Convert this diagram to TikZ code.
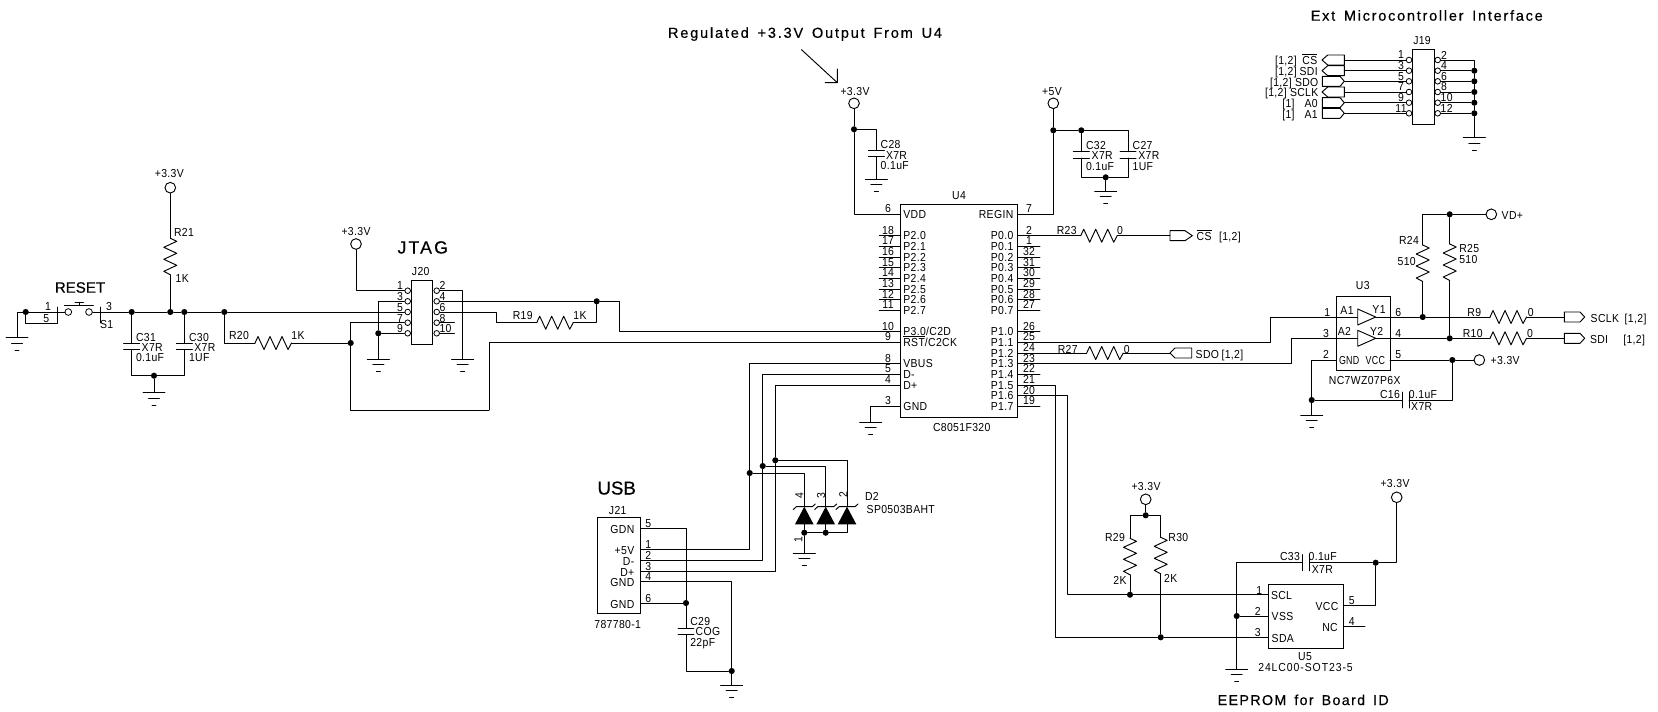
\documentclass[tikz,border=0pt]{standalone}
\usepackage{fontspec}
\setmainfont[FakeStretch=0.9,LetterSpace=3]{Liberation Sans}
\newfontfamily\widefont[LetterSpace=12.5,WordSpace=1.5,FakeBold=0.4]{Liberation Sans}
\newfontfamily\headfont[FakeBold=0.5]{Liberation Sans}
\newcounter{lblc}
\newcommand\smallfs{\fontsize{8.7}{10}\selectfont}
\newcommand\ovl[1]{$\overline{\hbox{#1}}$}
\tikzset{
  wire/.style={line width=0.7pt,line cap=round,line join=round,black},
  lab/.style={inner sep=0pt,outer sep=0pt,font=\smallfs,text=black},
  bigt/.style={inner sep=0pt,outer sep=0pt,text=black},
  junction/.style={circle,fill=black,inner sep=0pt,minimum size=4.6pt},
  pinc/.style={circle,draw=black,line width=0.6pt,fill=white,inner sep=0pt,minimum size=4.2pt},
  rail/.style={circle,draw=black,line width=0.7pt,fill=white,inner sep=0pt,minimum size=8pt},
  chip/.style={line width=0.7pt,black},
}
% text, centre / left / right anchored at mid height of the capitals
\newcommand\txc[3]{\stepcounter{lblc}\node[lab,anchor=base] (t\arabic{lblc}) at (#1,#2+4) {#3};}
\newcommand\txl[3]{\stepcounter{lblc}\node[lab,anchor=base west] (t\arabic{lblc}) at (#1,#2+4) {#3};}
\newcommand\txr[3]{\stepcounter{lblc}\node[lab,anchor=base east] (t\arabic{lblc}) at (#1,#2+4) {#3};}
\newcommand\dotn[3]{\node[junction] (#1) at (#2,#3) {};}
\newcommand\pt[3]{\coordinate (#1) at (#2,#3);}
\newcommand\resH[3]{\coordinate (#1a) at (#2,#3);\coordinate (#1b) at (#2+36.5,#3);
  \draw[wire,shift={(#2,#3)}] (0,0)--(3,-6.5)--(9,6.5)--(15,-6.5)--(21,6.5)--(27,-6.5)--(33,6.5)--(36.5,0);}
\newcommand\resV[3]{\coordinate (#1a) at (#2,#3);\coordinate (#1b) at (#2,#3+36.5);
  \draw[wire,shift={(#2,#3)}] (0,0)--(6.5,3)--(-6.5,9)--(6.5,15)--(-6.5,21)--(6.5,27)--(-6.5,33)--(0,36.5);}
\newcommand\capV[3]{\coordinate (#1a) at (#2,#3);\coordinate (#1b) at (#2,#3+6.5);
  \draw[wire,shift={(#2,#3)}] (-8,0)--(8,0) (-8,6.5)--(8,6.5);}
\newcommand\capH[3]{\coordinate (#1a) at (#2,#3);\coordinate (#1b) at (#2+7,#3);
  \draw[wire,shift={(#2,#3)}] (0,-8)--(0,8) (7,-8)--(7,8);}
\newcommand\gnd[3]{\coordinate (#1) at (#2,#3);
  \draw[wire,shift={(#2,#3)}] (-11,0)--(11,0) (-5.5,5.5)--(5.5,5.5) (-2,12.5)--(2,12.5);}
\newcommand\flag[5]{\coordinate (#1f) at (#2,#5);\coordinate (#1t) at (#4,#5);
  \draw[wire] (#2,#5-5)--(#3,#5-5)--(#4,#5)--(#3,#5+5)--(#2,#5+5)--cycle;}
\newcommand\buf[2]{\draw[wire] (#1,#2-8)--(#1+18,#2)--(#1,#2+8)--cycle;}
\newcommand\zen[1]{\fill[black] (#1,506.7)--(#1+9.3,524.3)--(#1-9.3,524.3)--cycle;
  \draw[wire] (#1-11,509.5)--(#1-8,506.7)--(#1+8,506.7)--(#1+11,504);}
\begin{document}
\begin{tikzpicture}[x=0.75pt,y=-0.75pt]
\fill[white] (0,0) rectangle (1658,711);
\useasboundingbox (0,0) rectangle (1658,711);

% ---------- headings ----------
\node[bigt,anchor=base] (hReset) at (80,292.7) {\fontsize{11.3}{13}\selectfont\headfont RESET};
\node[bigt,anchor=base] (hJtag) at (422.7,253.5) {\fontsize{13.2}{15}\selectfont\widefont JTAG};
\node[bigt,anchor=base] (hUsb) at (616.7,494.5) {\fontsize{14}{16}\selectfont\headfont USB};
\node[bigt,anchor=base west] (hReg) at (668,37.8) {\fontsize{10.9}{12}\selectfont\widefont Regulated +3.3V Output From U4};
\node[bigt,anchor=base west] (hExt) at (1310.7,20.7) {\fontsize{10.9}{12}\selectfont\widefont\addfontfeature{LetterSpace=12} Ext Microcontroller Interface};
\node[bigt,anchor=base west] (hEep) at (1217.7,705) {\fontsize{10.7}{12}\selectfont\widefont\addfontfeature{LetterSpace=9.5} EEPROM for Board ID};

% arrow under the heading
\pt{arA}{801.5}{49.7}\pt{arB}{837.3}{82.7}\pt{arC}{837.3}{69}\pt{arD}{825}{82.7}
\draw[wire] (arA)--(arB) (arC)--(arB)--(arD);

% ---------- reset switch ----------
\gnd{gS}{17}{337.7}
\pt{wS}{17}{312}
\dotn{dS}{25.7}{312}
\pt{sL}{57.3}{312}\pt{sLt}{57.3}{307}\pt{sLb}{57.3}{323}\pt{sR}{100}{312}\pt{sRt}{100}{307}\pt{sRb}{100}{323}
\draw[wire] (gS)--(wS)--(sL);
\draw[wire] (dS)|-(sLb);
\draw[wire] (sLt)--(sLb) (sRt)--(sRb);
\node[pinc,minimum size=5pt] (sA) at (68.3,312) {};
\node[pinc,minimum size=5pt] (sB) at (89,312) {};
\draw[wire] (sL)--(sA) (sB)--(sR);
\draw[wire] (64.3,305.7)--(93.3,305.7) (79,305.7)--(79,302.3) (75,302.3)--(83.3,302.3);
\txc{48}{306.5}{1}\txc{46.3}{318.7}{5}\txc{109}{306.5}{3}\txc{106.7}{324}{S1}

\dotn{d132}{131.7}{312}\dotn{d170}{170.3}{312}\dotn{d184}{184.3}{312}\dotn{d224}{224.3}{312}
\node[rail] (v21) at (170.3,187.7) {};
\txc{169.3}{173.3}{+3.3V}
\resV{r21}{170.3}{238.3}
\draw[wire] (v21)--(r21a) (r21b)--(d170);
\txl{174}{232.7}{R21}\txl{175.7}{278.3}{1K}
\capV{c31}{131.7}{343}\capV{c30}{184.3}{343}
\dotn{d154}{154}{375.7}
\gnd{g154}{154}{392.7}
\draw[wire] (d132)--(c31a) (d184)--(c30a);
\draw[wire] (c31b)|-(d154) (c30b)|-(d154) (d154)--(g154);
\txl{136}{337.3}{C31}\txl{141.7}{347.3}{X7R}\txl{136}{357.7}{0.1uF}
\txl{189}{337.3}{C30}\txl{194.3}{347.3}{X7R}\txl{189}{357.7}{1UF}
\draw[wire] (sR)--(d132) (d132)--(d170) (d170)--(d184) (d184)--(d224);

% ---------- J20 ----------
\draw[chip] (411.7,280) rectangle (432.7,344.3);
\txc{420.7}{271.7}{J20}
\foreach \n/\y in {1/290.7,3/301.3,5/312,7/322.7,9/333.3} {\node[pinc] (jL\n) at (407.7,\y) {};}
\foreach \n/\y in {2/290.7,4/301.3,6/312,8/322.7,10/333.3} {\node[pinc] (jR\n) at (436.7,\y) {};}
\foreach \n/\y in {1/285,3/296.5,5/307.3,7/318,9/328.7} {\txc{400}{\y}{\n}}
\foreach \n/\y in {2/285,4/296.5,6/307.3,8/318} {\txc{442.5}{\y}{\n}}
\txc{445.5}{328.7}{10}
\node[rail] (vJ) at (356,244) {};
\txc{356}{231.7}{+3.3V}
\draw[wire] (vJ)|-(jL1);
\dotn{d378}{378.3}{333.3}
\gnd{g378}{378.3}{359}
\draw[wire] (jL3)-|(d378) (d378)--(g378) (d378)--(jL9);
\draw[wire] (d224)--(jL5);
\resH{r20}{255}{343}
\dotn{d351}{350.7}{343}
\draw[wire] (d224)|-(r20a) (r20b)--(d351);
\txc{239}{335.7}{R20}\txc{298}{335.7}{1K}
\pt{lb1}{350.7}{410}\pt{lb2}{489}{410}
\draw[wire] (jL7)-|(d351) (d351)--(lb1)--(lb2);
\gnd{g463}{462.7}{359}
\draw[wire] (jR2)-|(g463);
\pt{s8}{454.3}{322.7}\pt{s10}{454.3}{333.3}
\draw[wire] (jR8)--(s8) (jR10)--(s10);
\dotn{d597}{596.7}{301.3}
\pt{bC2}{619.3}{301.3}
\pt{b497}{496.7}{322.7}
\resH{r19}{536.7}{322.7}
\draw[wire] (jR6)-|(b497) (b497)--(r19a) (r19b)-|(d597);
\txc{522.7}{315}{R19}\txc{580}{315}{1K}
\draw[wire] (jR4)--(d597)--(bC2);

% ---------- U4 ----------
\draw[chip] (900.7,204) rectangle (1017.7,417.3);
\txc{959}{195.7}{U4}\txc{961.7}{427.3}{C8051F320}
% left pins
\foreach \n/\t/\y in {6/VDD/214.3,18/P2.0/235.7,17/P2.1/246.3,16/P2.2/257,15/P2.3/267.7,14/P2.4/278.3,13/P2.5/289,12/P2.6/299.7,11/P2.7/310.3,10/{P3.0/C2D}/331.7,9/{\ovl{RST}/C2CK}/342.3,8/VBUS/363.7,5/D-/374.3,4/D+/385,3/GND/406.3}{
  \coordinate (uL\n) at (900.7,\y);
  \txl{903.3}{\y}{\t}
  \txc{888}{\y-5.5}{\n}
}
\foreach \n/\y in {18/235.7,17/246.3,16/257,15/267.7,14/278.3,13/289,12/299.7,11/310.3}{
  \coordinate (uLs\n) at (879.3,\y);
  \draw[wire] (uLs\n)--(uL\n);
}
% right pins
\foreach \n/\t/\y in {7/REGIN/214.3,2/P0.0/235.7,1/P0.1/246.3,32/P0.2/257,31/P0.3/267.7,30/P0.4/278.3,29/P0.5/289,28/P0.6/299.7,27/P0.7/310.3,26/P1.0/331.7,25/P1.1/342.3,24/P1.2/353,23/P1.3/363.7,22/P1.4/374.3,21/P1.5/385,20/P1.6/395.7,19/P1.7/406.3}{
  \coordinate (uR\n) at (1017.7,\y);
  \txr{1013.3}{\y}{\t}
  \txc{1029}{\y-5.5}{\n}
}
\foreach \n/\y in {1/246.3,32/257,31/267.7,30/278.3,29/289,28/299.7,27/310.3,26/331.7,22/374.3,19/406.3}{
  \coordinate (uRs\n) at (1040,\y);
  \draw[wire] (uR\n)--(uRs\n);
}
\draw[wire] (bC2)|-(uL10);
\draw[wire] (lb2)|-(uL9);
% VDD and C28
\node[rail] (vU) at (854,103.3) {};
\txc{855}{91.7}{+3.3V}
\dotn{d854}{854}{129.3}
\draw[wire] (vU)--(d854) (d854)|-(uL6);
\capV{c28}{876.3}{150.3}
\gnd{g876}{876.3}{179.3}
\draw[wire] (d854)-|(c28a) (c28b)--(g876);
\txl{880.7}{144.3}{C28}\txl{886}{155}{X7R}\txl{880.7}{165.7}{0.1uF}
% REGIN, C32, C27
\node[rail] (v5) at (1053.3,103.3) {};
\txc{1052}{91.7}{+5V}
\dotn{d1053}{1053.3}{130.3}\dotn{d1081}{1081.3}{130.3}
\draw[wire] (v5)--(d1053) (d1053)|-(uR7);
\capV{c32}{1081.3}{151.7}\capV{c27}{1128}{151.7}
\dotn{d1106}{1105.7}{177.3}
\gnd{g1106}{1105.7}{191.3}
\draw[wire] (d1053)--(d1081) (d1081)--(c32a) (d1081)-|(c27a);
\draw[wire] (c32b)|-(d1106) (c27b)|-(d1106) (d1106)--(g1106);
\txl{1086}{145}{C32}\txl{1091.7}{155.7}{X7R}\txl{1086}{166}{0.1uF}
\txl{1132.7}{145}{C27}\txl{1138.3}{155.7}{X7R}\txl{1132.7}{166}{1UF}
% GND of U4
\gnd{g871}{870.7}{422.3}
\draw[wire] (uL3)-|(g871);
% R23
\resH{r23}{1080.7}{235.7}
\flag{fCS}{1170}{1185}{1192.3}{235.7}
\draw[wire] (uR2)--(r23a) (r23b)--(fCSf);
\txc{1066.7}{230}{R23}\txc{1120}{230.7}{0}
\txl{1196.7}{236.7}{\ovl{CS}}\txl{1219}{236.7}{[1,2]}
% R27
\resH{r27}{1086.7}{353}
\flag{fSDO}{1191.7}{1175}{1170}{353}
\draw[wire] (uR24)--(r27a) (r27b)--(fSDOt);
\txc{1067.7}{349}{R27}\txc{1126.7}{349}{0}
\txl{1195.7}{354}{SDO}\txl{1221.5}{354}{[1,2]}

% ---------- J19 ----------
\draw[chip] (1412.3,49.3) rectangle (1434,124.3);
\txc{1422}{40.7}{J19}
\foreach \n/\y in {1/60,3/70.7,5/81.3,7/92,9/102.7,11/113.3} {\node[pinc] (kL\n) at (1409,\y) {};}
\foreach \n/\y in {2/60,4/70.7,6/81.3,8/92,10/102.7,12/113.3} {\node[pinc] (kR\n) at (1437.7,\y) {};}
\foreach \n/\y in {1/54.3,3/65.5,5/76.3,7/86.7,9/97.3,11/108.5} {\txc{1401}{\y}{\n}}
\foreach \n/\y in {2/55,4/65.5,6/76.3,8/86.7} {\txc{1444}{\y}{\n}}
\txc{1446.7}{97.3}{10}\txc{1446.7}{108.5}{12}
\flag{kCS}{1344.3}{1327.7}{1322}{60}
\flag{kSDI}{1344.3}{1327.7}{1322}{70.7}
\flag{kSDO}{1322.3}{1340}{1344.3}{81.3}
\flag{kSCK}{1344.3}{1327.7}{1322}{92}
\flag{kA0}{1322.3}{1340}{1344.3}{102.7}
\flag{kA1}{1322.3}{1340}{1344.3}{113.3}
\draw[wire] (kCSf)--(kL1) (kSDIf)--(kL3) (kSDOt)--(kL5) (kSCKf)--(kL7) (kA0t)--(kL9) (kA1t)--(kL11);
\foreach \n/\y in {4/70.7,6/81.3,8/92,10/102.7,12/113.3} {\dotn{kd\n}{1474.3}{\y}}
\gnd{gK}{1474.3}{137.7}
\draw[wire] (kR2)-|(kd4) (kd4)--(kd6)--(kd8)--(kd10)--(kd12)--(gK);
\foreach \n/\y in {4/70.7,6/81.3,8/92,10/102.7,12/113.3} {\draw[wire] (kR\n)--(kd\n);}
\txl{1275}{60.7}{[1,2]}\txr{1317.3}{60.7}{\ovl{CS}}
\txl{1275}{71.3}{[1,2]}\txr{1317.7}{71.3}{SDI}
\txl{1270}{82}{[1,2]}\txr{1318.3}{82}{SDO}
\txl{1265}{92.7}{[1,2]}\txr{1318.3}{92.7}{SCLK}
\txl{1282.3}{103.3}{[1]}\txr{1317.7}{103.3}{A0}
\txl{1282.3}{114}{[1]}\txr{1317.7}{114}{A1}

% ---------- U3 ----------
\draw[chip] (1336.7,296) rectangle (1390,370);
\txc{1362.7}{285}{U3}\txc{1364.7}{380}{NC7WZ07P6X}
\buf{1357.7}{317}\buf{1357.7}{338.3}
\pt{a1}{1357.7}{317}\pt{a2}{1357.7}{338.3}\pt{y1}{1375.7}{317}\pt{y2}{1375.7}{338.3}
\txc{1347}{310}{A1}\txc{1379}{309}{Y1}\txc{1344.3}{331}{A2}\txc{1376.7}{331}{Y2}
\txl{1339}{360.7}{\scalebox{0.85}[1]{GND}}\txr{1385}{360.7}{\scalebox{0.85}[1]{VCC}}
\txc{1327.3}{312.5}{1}\txc{1326}{333}{3}\txc{1326}{354}{2}
\txc{1398.3}{312.3}{6}\txc{1398.3}{333.3}{4}\txc{1398.3}{354.7}{5}
\pt{bA1}{1270}{330}\pt{bA2}{1291.7}{350}
\draw[wire] (uR25)-|(bA1)|-(a1);
\draw[wire] (uR23)-|(bA2)|-(a2);
\dotn{d1423}{1422.7}{317}\dotn{d1450b}{1449.7}{338.3}
\resH{r9}{1490}{317}\resH{r10}{1490}{338.3}
\draw[wire] (y1)--(d1423)--(r9a) (y2)--(d1450b)--(r10a);
\flag{fSCK}{1564.3}{1580}{1584.7}{317}
\flag{fSDI}{1564.3}{1580}{1584.7}{338.3}
\draw[wire] (r9b)--(fSCKf) (r10b)--(fSDIf);
\txc{1474.3}{312.3}{R9}\txc{1530.7}{312.3}{0}\txc{1472.7}{333.3}{R10}\txc{1530}{333.3}{0}
\txl{1590.7}{318.3}{SCLK}\txl{1624.7}{318.3}{[1,2]}
\txl{1590}{339.3}{SDI}\txl{1623.3}{339.3}{[1,2]}
\resV{r24}{1422.7}{245}\resV{r25}{1449.7}{244}
\node[rail] (vD) at (1491.3,214.3) {};
\dotn{d1450a}{1449.7}{214.3}
\txl{1501.7}{215}{VD+}
\draw[wire] (vD)--(d1450a) (d1450a)-|(r24a) (r24b)--(d1423) (d1450a)--(r25a) (r25b)--(d1450b);
\txc{1409}{240.7}{R24}\txc{1406.7}{261.3}{510}\txl{1459.3}{248.7}{R25}\txl{1459.3}{259.3}{510}
% VCC / GND of U3
\pt{u3V}{1390}{360}\pt{u3G}{1336.7}{360}
\node[rail] (v3) at (1479.3,360) {};
\dotn{d1452}{1452.3}{360}
\txl{1490.7}{360.7}{+3.3V}
\draw[wire] (u3V)--(d1452)--(v3);
\capH{c16}{1402}{400}
\dotn{d1312}{1311.7}{400}
\gnd{g1312}{1311.7}{415}
\draw[wire] (u3G)-|(d1312) (d1312)--(g1312) (d1312)--(c16a) (c16b)-|(d1452);
\txc{1390}{394.3}{C16}\txc{1423}{394.3}{0.1uF}\txc{1421.7}{406.7}{X7R}

% ---------- J21 ----------
\draw[chip] (597.3,517.3) rectangle (640.7,613.3);
\txc{617.7}{510.3}{J21}\txc{617.7}{624}{787780-1}
\foreach \n/\t/\y in {5/GDN/528.3,1/+5V/549.3,2/D-/560.3,3/D+/571,4/GND/581.7,6/GND/603}{
  \coordinate (nP\n) at (640.7,\y);
  \txr{634.3}{\y+1}{\t}
  \txc{648.3}{\y-5}{\n}
}
\dotn{d686}{686}{603}
\capV{c29}{686}{628}
\dotn{d732}{731.7}{671}
\gnd{g732}{731.7}{685}
\pt{b1}{749.7}{549.3}\pt{b2}{762.7}{560.3}\pt{b3}{775.3}{571}
\draw[wire] (nP5)-|(d686) (nP6)--(d686) (d686)--(c29a) (c29b)|-(d732) (nP4)-|(d732) (d732)--(g732);
\txl{690.3}{621}{C29}\txl{695.7}{631.7}{COG}\txl{690.3}{642.3}{22pF}
\dotn{d750}{749.7}{473}\dotn{d763}{762.7}{466}\dotn{d775}{775.3}{460.3}
\draw[wire] (nP1)--(b1)--(d750) (d750)|-(uL8);
\draw[wire] (nP2)--(b2)--(d763) (d763)|-(uL5);
\draw[wire] (nP3)--(b3)--(d775) (d775)|-(uL4);
% ---------- D2 ----------
\zen{804.3}\zen{825.7}\zen{847}
\pt{z1}{804.3}{506.7}\pt{z2}{825.7}{506.7}\pt{z3}{847}{506.7}
\pt{z1b}{804.3}{524.3}\pt{z2b}{825.7}{524.3}\pt{z3b}{847}{524.3}
\draw[wire] (d750)-|(z1) (d763)-|(z2) (d775)-|(z3);
\dotn{dz1}{804.3}{532.7}\dotn{dz2}{825.7}{532.7}
\pt{dz3}{847}{532.7}
\gnd{gz}{804.3}{553.3}
\draw[wire] (z1b)--(dz1)--(gz) (z2b)--(dz2) (z3b)--(dz3)--(dz2)--(dz1);
\node[lab,rotate=90] (n4) at (799.3,495.7) {4};
\node[lab,rotate=90] (n3) at (821,495.7) {3};
\node[lab,rotate=90] (n2) at (843.3,494.3) {2};
\node[lab,rotate=90] (n1) at (798.3,539.3) {1};
\txl{865}{496.7}{D2}\txl{866.7}{509.3}{SP0503BAHT}

% ---------- U5 ----------
\draw[chip] (1268.3,584) rectangle (1343.3,648.3);
\txc{1305}{656.7}{U5}\txc{1305.5}{667.7}{\addfontfeature{LetterSpace=8}24LC00-SOT23-5}
\pt{e1}{1268.3}{594.7}\pt{e2}{1268.3}{616}\pt{e3}{1268.3}{637.3}\pt{e5}{1343.3}{605.3}\pt{e4}{1343.3}{626.7}\pt{e4s}{1365}{626.7}
\txl{1271}{595.7}{SCL}\txl{1271.7}{616.7}{VSS}\txl{1271.7}{638.3}{SDA}
\txr{1338.3}{606}{VCC}\txr{1337.7}{627.7}{NC}
\txc{1259.3}{590}{1}\txc{1257.7}{611}{2}\txc{1257.7}{632.3}{3}\txc{1351.7}{600}{5}\txc{1351.7}{621.3}{4}
\dotn{d1130}{1130}{594.7}\dotn{d1161}{1160.7}{637.3}
\pt{b1055}{1055}{500}\pt{b1068}{1067.7}{500}
\draw[wire] (uR21)-|(b1055)|-(d1161) (d1161)--(e3);
\draw[wire] (uR20)-|(b1068)|-(d1130) (d1130)--(e1);
\draw[wire] (e4)--(e4s);
\node[rail] (vR) at (1145.7,499.3) {};
\dotn{d1146}{1145.7}{515.3}
\txc{1146}{486.7}{+3.3V}
\resV{r29}{1130}{538.3}\resV{r30}{1160.7}{537.3}
\draw[wire] (vR)--(d1146) (d1146)-|(r29a) (d1146)-|(r30a) (r29b)--(d1130) (r30b)--(d1161);
\txc{1115}{537.3}{R29}\txc{1120}{580}{2K}\txc{1178.3}{537.3}{R30}\txc{1170.7}{578.3}{2K}
\dotn{d1237}{1236.7}{616}
\gnd{g1237}{1236.7}{669.3}
\pt{t1237}{1236.7}{562.7}
\capH{c33}{1302.5}{562.7}
\dotn{d1376}{1375.7}{562.7}
\node[rail] (vE) at (1396.7,497.3) {};
\txc{1395}{483.3}{+3.3V}
\pt{b1397}{1396.7}{562.7}
\draw[wire] (g1237)--(t1237)--(c33a) (d1237)--(e2);
\draw[wire] (c33b)--(d1376)--(b1397)--(vE);
\draw[wire] (e5)-|(d1376);
\txc{1290}{556.7}{C33}\txc{1322.7}{556.7}{0.1uF}\txc{1322.3}{569}{X7R}
\end{tikzpicture}
\end{document}
